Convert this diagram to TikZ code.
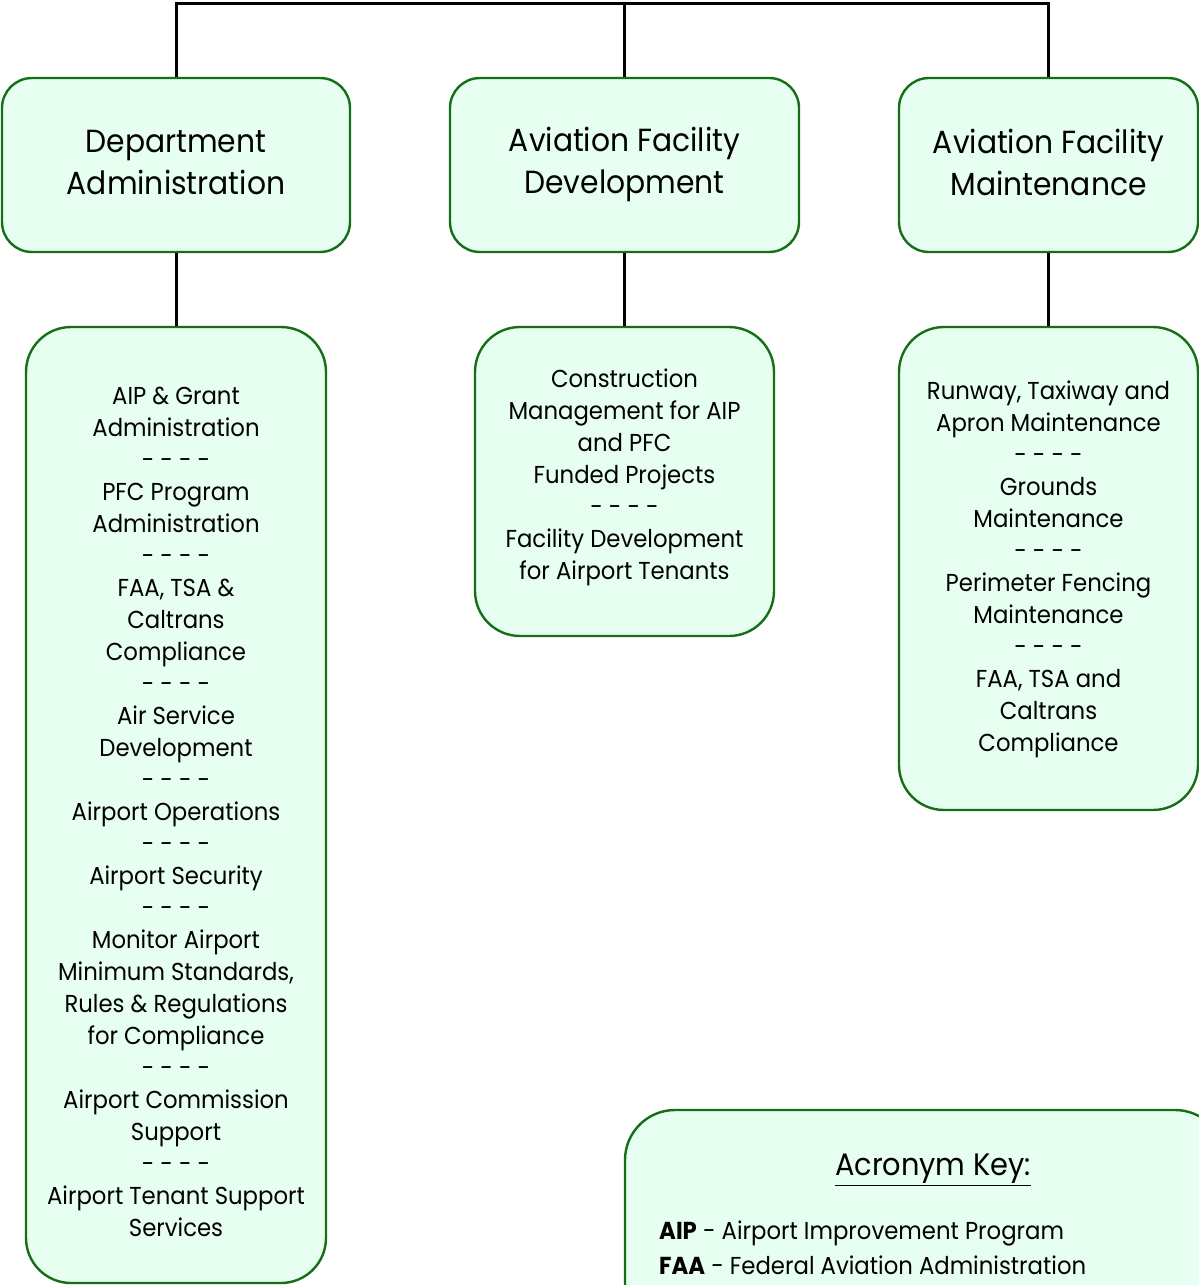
\documentclass[tikz,border=0pt]{standalone}
\usepackage{fontspec}
\setmainfont[FakeStretch=0.93]{Poppins}
\begin{document}
\begin{tikzpicture}[x=1pt,y=-1pt,
  box/.style={draw=boxline, fill=boxfill, line width=2.4pt, inner sep=0pt},
  headbox/.style={box, rounded corners=30pt, minimum height=174pt},
  listbox/.style={box, rounded corners=45pt, minimum width=300pt},
  headtext/.style={align=center, inner sep=0pt, font=\fontsize{32}{42}\selectfont},
  listtext/.style={align=center, inner sep=0pt, font=\fontsize{24.5}{32}\selectfont},
  keyline/.style={anchor=west, inner sep=0pt, font=\fontsize{24.5}{32}\selectfont},
  conn/.style={draw=black, line width=3pt}]
\definecolor{boxfill}{RGB}{230,255,240}
\definecolor{boxline}{RGB}{22,110,22}
\useasboundingbox (0,0) rectangle (1199,1285);
\clip (0,0) rectangle (1199,1285);

% department heads
\node[headbox, minimum width=348pt] (d1) at (176,165) {};
\node[headbox, minimum width=349pt] (d2) at (624.5,165) {};
\node[headbox, minimum width=299pt] (d3) at (1048.5,165) {};
\node[headtext] (d1t) at (176,162) {Department\\Administration};
\node[headtext] (d2t) at (624.5,164) {Aviation Facility\\Development};
\node[headtext] (d3t) at (1048.5,162) {Aviation Facility\\Maintenance};

% duty lists
\node[listbox, minimum height=956pt] (l1) at (176,805) {};
\node[listbox, minimum width=299pt, minimum height=309pt] (l2) at (624.5,481.5) {};
\node[listbox, minimum width=299pt, minimum height=483pt] (l3) at (1048.5,568.5) {};
\node[listtext] (l1t) at (176,811.5) {AIP \& Grant\\Administration\\- - - -\\PFC Program\\Administration\\- - - -\\FAA, TSA \&\\Caltrans\\Compliance\\- - - -\\Air Service\\Development\\- - - -\\Airport Operations\\- - - -\\Airport Security\\- - - -\\Monitor Airport\\Minimum Standards,\\Rules \& Regulations\\for Compliance\\- - - -\\Airport Commission\\Support\\- - - -\\Airport Tenant Support\\Services};
\node[listtext] (l2t) at (624.5,477) {Construction\\Management for AIP\\and PFC\\Funded Projects\\- - - -\\Facility Development\\for Airport Tenants};
\node[listtext] (l3t) at (1048.5,569) {Runway, Taxiway and\\Apron Maintenance\\- - - -\\Grounds\\Maintenance\\- - - -\\Perimeter Fencing\\Maintenance\\- - - -\\FAA, TSA and\\Caltrans\\Compliance};

% acronym key
\node[box, rounded corners=50pt, minimum width=600pt, minimum height=300pt] (key) at (925,1260) {};
\node[font=\fontsize{31}{36}\selectfont] (keyt) at (933,1170) {\underline{Acronym Key:}};
\node[keyline] (k1) at (659,1233) {\textbf{AIP} - Airport Improvement Program};
\node[keyline] (k2) at (659,1265) {\textbf{FAA} - Federal Aviation Administration};

% connectors
\coordinate (bus1) at (176,3);
\coordinate (bus2) at (624.5,3);
\coordinate (bus3) at (1048.5,3);
\draw[conn] (d1.north) -- (bus1) -- (bus3) -- (d3.north);
\draw[conn] (d2.north) -- (bus2);
\draw[conn] (d1.south) -- (l1.north);
\draw[conn] (d2.south) -- (l2.north);
\draw[conn] (d3.south) -- (l3.north);
\end{tikzpicture}
\end{document}
